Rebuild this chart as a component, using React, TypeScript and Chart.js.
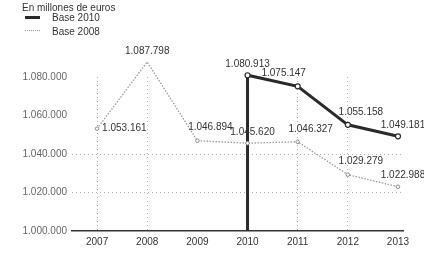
import React, { useEffect, useRef } from "react";
import { Chart, registerables } from "chart.js";

Chart.register(...registerables);

const TITLE = "En millones de euros";
const SERIES_2010 = "Base 2010";
const SERIES_2008 = "Base 2008";

const years = [2007, 2008, 2009, 2010, 2011, 2012, 2013];
const years2008 = [2007, 2008, 2009, 2010, 2011, 2012, 2013];
const base2008 = [1053161, 1087798, 1046894, 1045620, 1046327, 1029279, 1022988];
const years2010 = [2010, 2011, 2012, 2013];
const base2010 = [1080913, 1075147, 1055158, 1049181];
const yTicks = [1000000, 1020000, 1040000, 1060000, 1080000];

const place2008 = ["right", "above", "aboveRight", "aboveEnd", "aboveRight", "aboveRight", "aboveEnd"];
const place2010 = ["above", "aboveLeft", "aboveRight", "aboveEnd"];

const Y_MIN = yTicks[0];
const Y_MAX = yTicks[yTicks.length - 1];

const fmt = (v: number) => String(Math.round(v)).replace(/\B(?=(\d{3})+(?!\d))/g, ".");

const PLACEMENTS: Record<string, { align: CanvasTextAlign; dx: number; dy: number }> = {
  right: { align: "left", dx: 5, dy: 0 },
  above: { align: "center", dx: 0, dy: -11 },
  aboveRight: { align: "center", dx: 13, dy: -13 },
  aboveLeft: { align: "center", dx: -14, dy: -13 },
  aboveEnd: { align: "center", dx: 5, dy: -11 },
};

const FONT = "'Liberation Sans', Arial, sans-serif";

const labelPlugin = {
  id: "valueLabels",
  afterDatasetsDraw(chart: any) {
    const ctx = chart.ctx;
    ctx.save();
    ctx.font = `10px ${FONT}`;
    ctx.fillStyle = "#333";
    ctx.textBaseline = "middle";
    chart.data.datasets.forEach((ds: any, i: number) => {
      const meta = chart.getDatasetMeta(i);
      meta.data.forEach((pt: any, j: number) => {
        const raw = ds.data[j];
        if (!raw || raw.noLabel) return;
        const p = PLACEMENTS[ds.placements[raw.k]] || PLACEMENTS.aboveRight;
        ctx.textAlign = p.align;
        ctx.fillText(fmt(raw.y), pt.x + p.dx, pt.y + p.dy);
      });
    });
    ctx.restore();
  },
};

export default function App() {
  const ref = useRef<HTMLCanvasElement>(null);

  useEffect(() => {
    document.body.style.margin = "0";
    if (!ref.current) return;
    const data2008 = years2008.map((x, k) => ({ x, y: base2008[k], k }));
    const data2010 = [
      { x: years2010[0], y: Y_MIN, k: -1, noLabel: true },
      ...years2010.map((x, k) => ({ x, y: base2010[k], k })),
    ];
    const chart = new Chart(ref.current, {
      type: "line",
      data: {
        datasets: [
          {
            label: SERIES_2008,
            data: data2008,
            borderColor: "#9a9a9a",
            borderWidth: 1.3,
            borderDash: [1.5, 1.5],
            pointRadius: 1.8,
            pointBackgroundColor: "#fff",
            pointBorderColor: "#8a8a8a",
            pointBorderWidth: 1,
            clip: false,
            placements: place2008,
          } as any,
          {
            label: SERIES_2010,
            data: data2010,
            borderColor: "#2a2a2a",
            borderWidth: 3,
            pointRadius: (c: any) => (c.dataIndex === 0 ? 0 : 2.5),
            pointBackgroundColor: "#fff",
            pointBorderColor: "#2a2a2a",
            pointBorderWidth: 1.2,
            clip: false,
            placements: place2010,
          } as any,
        ],
      },
      options: {
        animation: false,
        responsive: false,
        parsing: false as any,
        layout: { padding: { top: 77, right: 21, left: 0, bottom: 0 } },
        plugins: {
          legend: { display: false },
          tooltip: { enabled: false },
        },
        scales: {
          x: {
            type: "linear",
            min: 2006.5,
            max: 2013.1,
            afterBuildTicks: (s: any) => {
              s.ticks = years.map((v) => ({ value: v }));
            },
            afterFit: (s: any) => {
              s.height = 22;
            },
            ticks: {
              color: "#333",
              font: { size: 10, family: FONT },
              padding: 5,
              callback: (v: any) => String(v),
            },
            grid: {
              drawTicks: false,
              color: (c: any) =>
                c.tick && [2007, 2008, 2011, 2012].includes(c.tick.value) ? "#b0b0b0" : "rgba(0,0,0,0)",
              lineWidth: 1,
            },
            border: { display: true, color: "#333", width: 1.5, dash: [1, 3] },
          },
          y: {
            type: "linear",
            min: Y_MIN,
            max: Y_MAX,
            afterBuildTicks: (s: any) => {
              s.ticks = yTicks.map((v) => ({ value: v }));
            },
            afterFit: (s: any) => {
              s.width = 72;
            },
            ticks: {
              color: "#666",
              font: { size: 10, family: FONT },
              padding: 5,
              callback: (v: any) => fmt(Number(v)),
            },
            grid: {
              drawTicks: false,
              color: (c: any) =>
                c.tick && (c.tick.value === 1020000 || c.tick.value === 1040000) ? "#b0b0b0" : "rgba(0,0,0,0)",
              lineWidth: 1,
            },
            border: { display: false, dash: [1, 3] },
          },
        },
      },
      plugins: [labelPlugin],
    });
    return () => chart.destroy();
  }, []);

  const legendText: React.CSSProperties = {
    position: "absolute",
    left: 52,
    fontSize: 10,
    color: "#333",
    lineHeight: "11px",
    whiteSpace: "nowrap",
  };

  return (
    <div style={{ position: "relative", width: 424, height: 253, fontFamily: FONT, background: "#fff" }}>
      <canvas ref={ref} width={424} height={253} style={{ position: "absolute", left: 0, top: 0 }} />
      <div style={{ position: "absolute", left: 22, top: 2, fontSize: 10, color: "#333", lineHeight: "11px", whiteSpace: "nowrap" }}>
        {TITLE}
      </div>
      <div style={{ position: "absolute", left: 25, top: 16, width: 15, height: 0, borderTop: "3px solid #2a2a2a" }} />
      <div style={{ ...legendText, top: 12 }}>{SERIES_2010}</div>
      <div style={{ position: "absolute", left: 25, top: 30, width: 15, height: 0, borderTop: "1.5px dotted #9a9a9a" }} />
      <div style={{ ...legendText, top: 26 }}>{SERIES_2008}</div>
    </div>
  );
}
